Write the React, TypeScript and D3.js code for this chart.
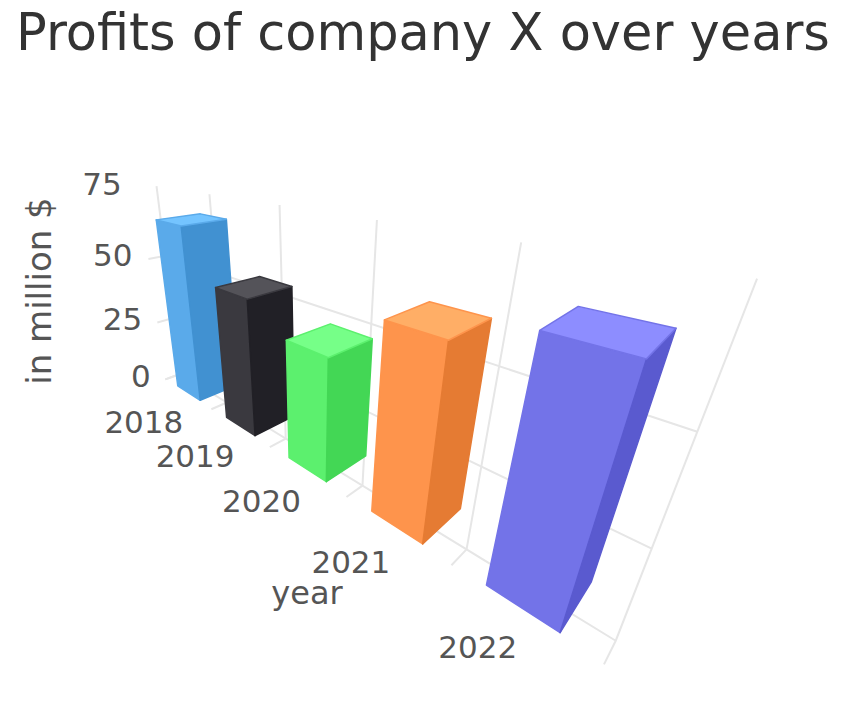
import React from 'react'
import * as d3 from 'd3'

const categories = ['2018', '2019', '2020', '2021', '2022']
const profits = [65, 48, 40, 55, 62]
const yTicks = [0, 25, 50, 75]
const gridTicks = [0, 25, 50]
const barColors = ['#5aaaea', '#3a393f', '#5cf06e', '#fe944c', '#7373e8']

// camera and 3d frame
const rad = Math.PI / 180
const cam = { yaw: 46.088 * rad, pitch: 25.011 * rad, roll: -0.29 * rad, tx: -284.1, ty: 46.03, tz: 1000, f: 496.06, cx: 306.27, cy: 356.5 }
const catWidth = 162.712
const unitHeight = 4.9053
const unitDepth = 3.5052
const frameDepth = 9.689
const barHalf = 0.244
const colZ0 = 1
const colDepth = 25
const fontSize = 31

const project = (X: number, Y: number, Z: number): [number, number] => {
  const cyw = Math.cos(cam.yaw), syw = Math.sin(cam.yaw)
  const x1 = cyw * X + syw * Z, y1 = Y, z1 = -syw * X + cyw * Z
  const cp = Math.cos(cam.pitch), sp = Math.sin(cam.pitch)
  const y2 = cp * y1 - sp * z1, z2 = sp * y1 + cp * z1
  const cr = Math.cos(cam.roll), sr = Math.sin(cam.roll)
  const x3 = cr * x1 - sr * y2, y3 = sr * x1 + cr * y2
  const zc = z2 + cam.tz
  return [cam.cx + cam.f * (x3 + cam.tx) / zc, cam.cy + cam.f * (y3 + cam.ty) / zc]
}

const x = d3.scaleLinear().domain([0, categories.length]).range([0, categories.length * catWidth])
const band = d3.scaleBand<string>().domain(categories).range([0, categories.length * catWidth])
  .paddingInner(1 - 2 * barHalf).paddingOuter((1 - 2 * barHalf) / 2)
const y = d3.scaleLinear().domain([0, 75]).range([0, -75 * unitHeight])
const z = d3.scaleLinear().domain([0, 1]).range([0, unitDepth])

// highcharts-like brighten: shift every channel
const brighten = (c: string, k: number) => {
  const r = d3.rgb(c)
  const cl = (v: number) => Math.min(255, Math.max(0, v + k * 255))
  return d3.rgb(cl(r.r), cl(r.g), cl(r.b)).formatHex()
}

const line = d3.line()
const poly = (pts: [number, number][]) => line(pts) + 'Z'

export default function App() {
  const D = z(frameDepth)
  const z0 = z(colZ0), z1 = z(colZ0 + colDepth)
  const n = categories.length

  return (
    <svg width={846} height={706} style={{ display: 'block', position: 'absolute', left: 0, top: 0 }} fontFamily="DejaVu Sans">
      <rect width={846} height={706} fill="#fff" />
      <text x={423} y={50} textAnchor="middle" fontSize={51} fill="#333">Profits of company X over years</text>

      {/* grid: y lines on left side + back wall, x lines on back wall + floor */}
      <g stroke="#e6e6e6" strokeWidth={2} fill="none">
        {gridTicks.map((v) => (
          <path key={'g' + v} d={line([project(x(0), y(v), 0), project(x(0), y(v), D), project(x(n), y(v), D)]) || ''} />
        ))}
        {d3.range(n + 1).map((i) => (
          <path key={'x' + i} d={line([project(x(i), y(75), D), project(x(i), 0, D), project(x(i), 0, 0)]) || ''} />
        ))}
      </g>

      {categories.map((c, k) => {
        const xl = band(c) as number, xr = xl + band.bandwidth()
        const v = y(profits[k])
        const col = barColors[k]
        const front: [number, number][] = [project(xl, 0, z0), project(xr, 0, z0), project(xr, v, z0), project(xl, v, z0)]
        const side: [number, number][] = [project(xr, 0, z0), project(xr, 0, z1), project(xr, v, z1), project(xr, v, z0)]
        const top: [number, number][] = [project(xl, v, z0), project(xr, v, z0), project(xr, v, z1), project(xl, v, z1)]
        return (
          <g key={c} strokeWidth={1.5} strokeLinejoin="round">
            <path d={poly(front)} fill={col} stroke={col} />
            <path d={poly(side)} fill={brighten(col, -0.1)} stroke={brighten(col, -0.1)} />
            <path d={poly(top)} fill={brighten(col, 0.1)} stroke={col} />
          </g>
        )
      })}

      <g fill="#555" fontSize={fontSize}>
        {categories.map((c, k) => {
          const [px, py] = project(x(k + 0.5), y(0.4), z(-6.707))
          return <text key={c} x={px - 32.2} y={py + 24.4 + 0.365 * fontSize} textAnchor="middle">{c}</text>
        })}
        {yTicks.map((t) => {
          const [px, py] = project(x(-0.066), y(t), z(-4.957))
          return <text key={t} x={px - 4.1} y={py - 4.8 + 0.365 * fontSize} textAnchor="end">{t}</text>
        })}
      </g>
      <text x={307} y={604} textAnchor="middle" fontSize={32} fill="#555">year</text>
      <text transform="translate(51,291) rotate(-90)" textAnchor="middle" fontSize={34} fill="#555">in million $</text>
    </svg>
  )
}
